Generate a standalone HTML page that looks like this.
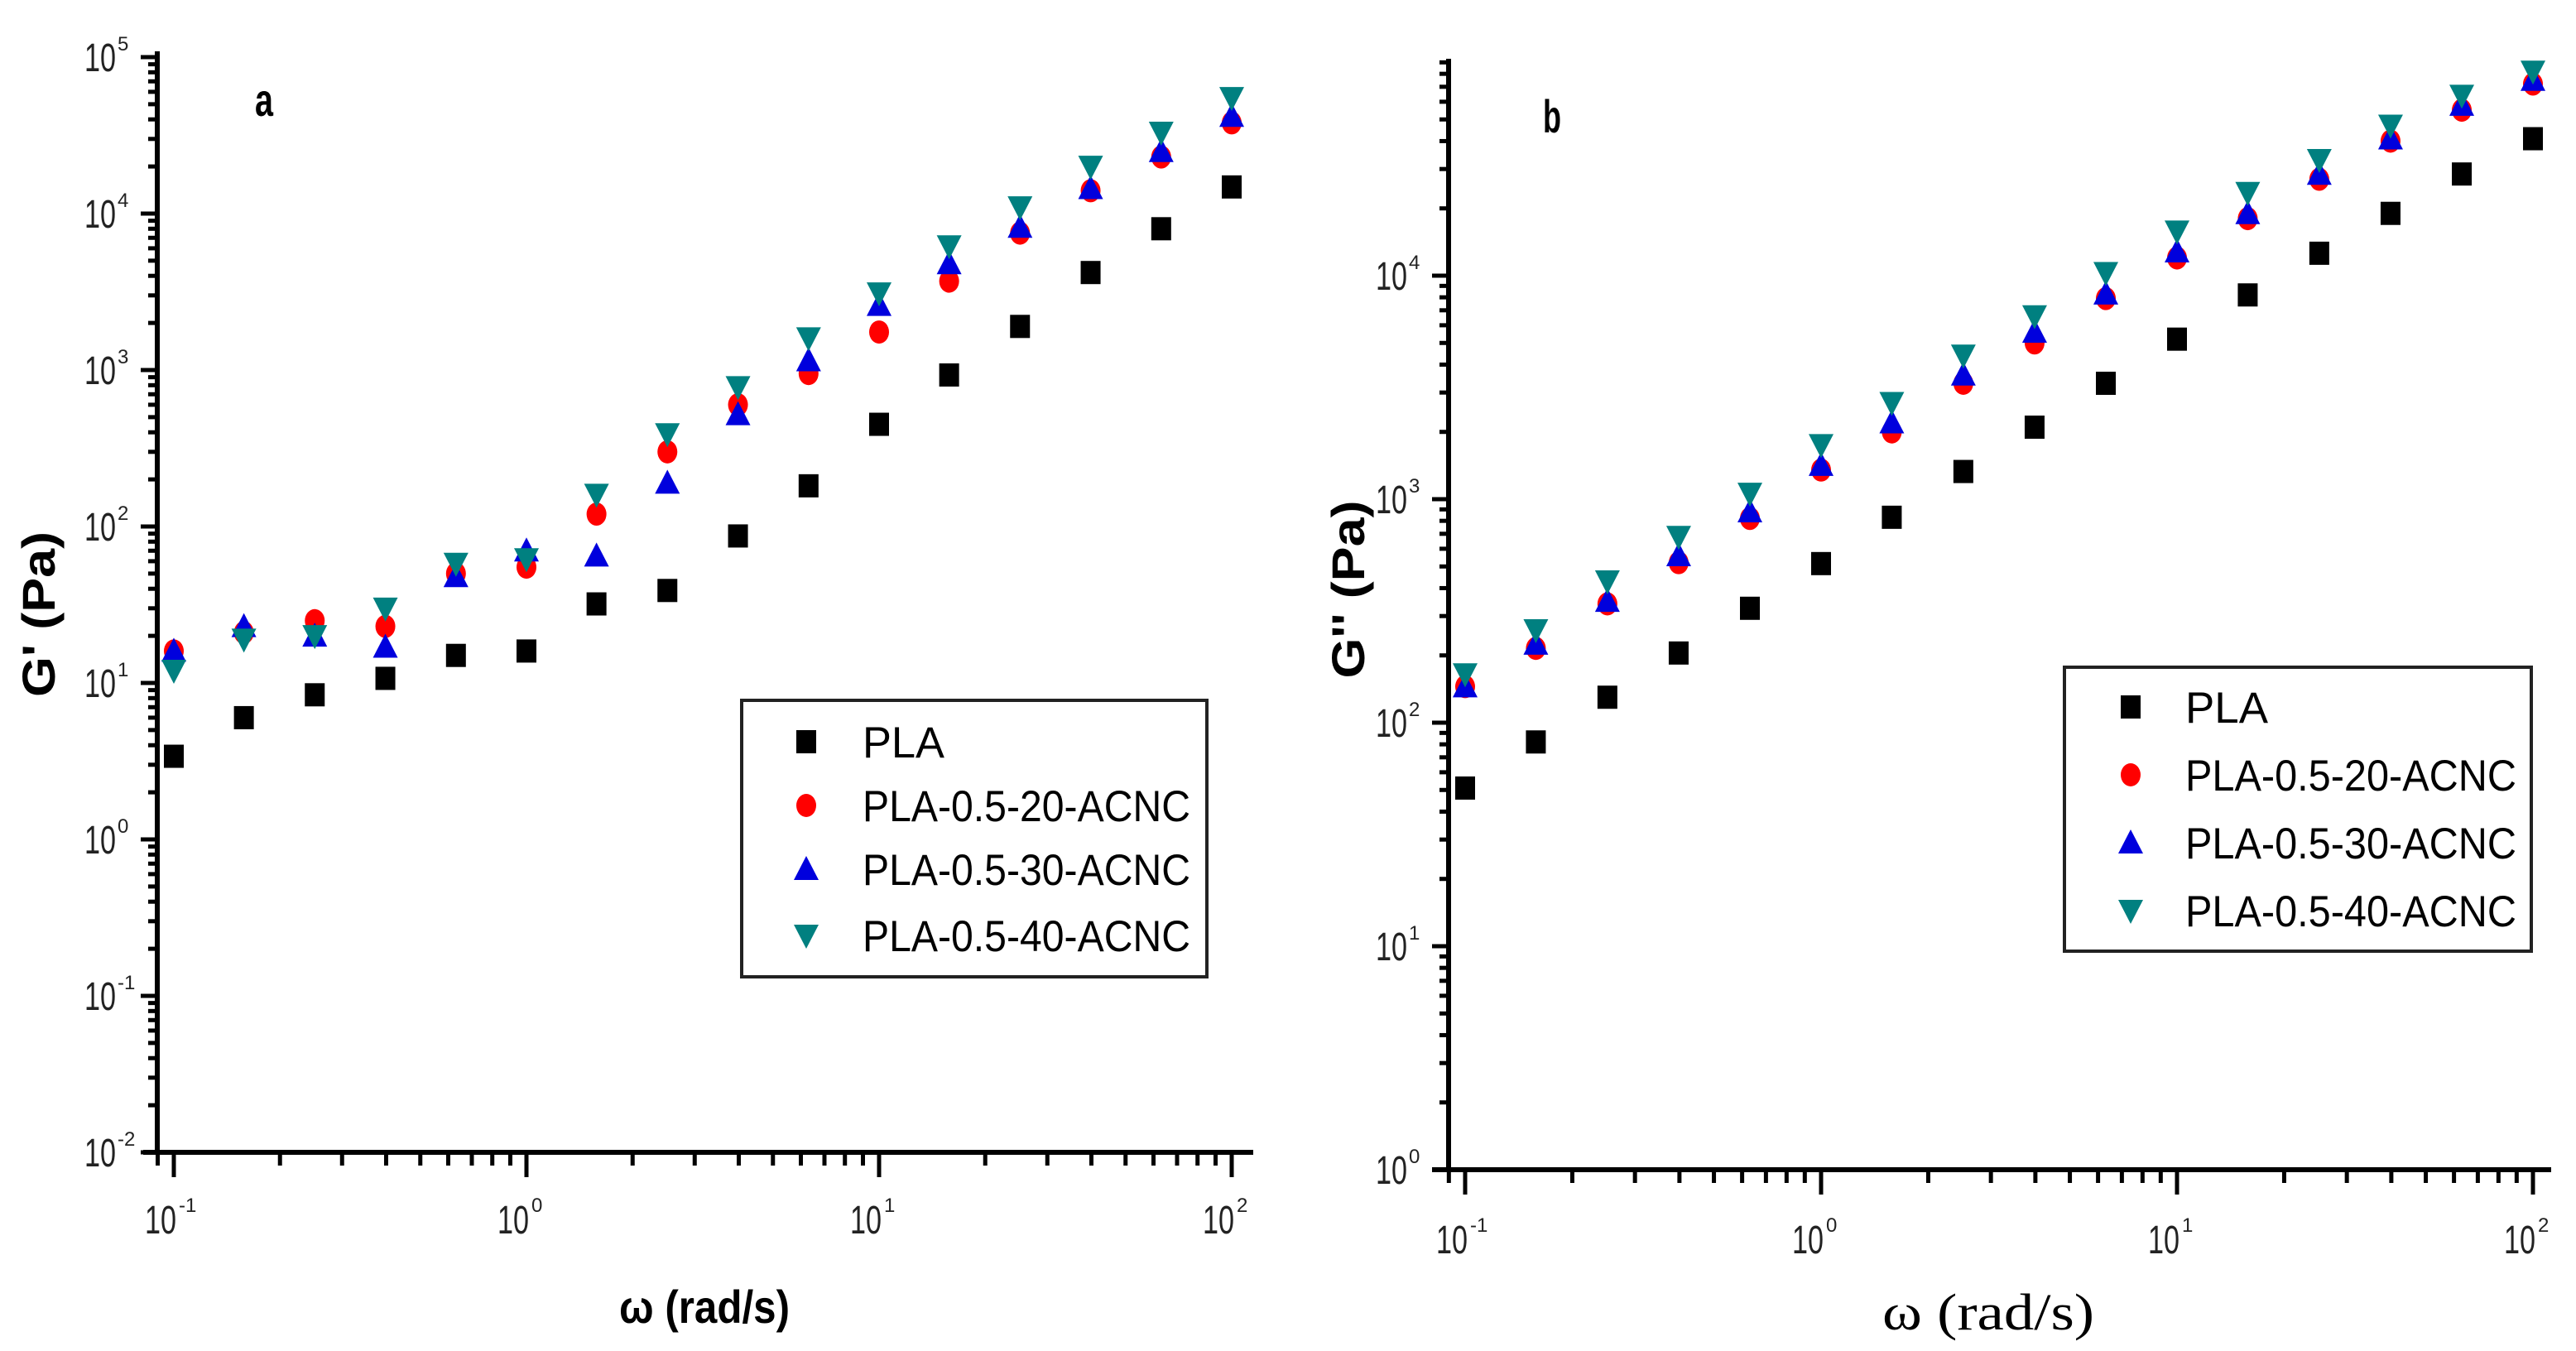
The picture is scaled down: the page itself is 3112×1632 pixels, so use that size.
<!DOCTYPE html>
<html><head><meta charset="utf-8"><style>
html,body{margin:0;padding:0;background:#fff;}
svg{display:block;}
</style></head><body>
<svg id="fig" width="3112" height="1632" viewBox="0 0 3112 1632" xmlns="http://www.w3.org/2000/svg" font-family="Liberation Sans, Arial, sans-serif"></svg>
<script>
// ---- data ----
const omega = [0.1,0.158,0.251,0.398,0.631,1,1.58,2.51,3.98,6.31,10,15.8,25.1,39.8,63.1,100];
const seriesNames = ["PLA","PLA-0.5-20-ACNC","PLA-0.5-30-ACNC","PLA-0.5-40-ACNC"];
const gA_PLA = [3.4,6.0,8.4,10.7,15,16,32,39,87,182,450,930,1900,4200,8000,14800];
const gA_20  = [16,21,25,23,50,55,120,300,600,950,1750,3700,7500,14000,23000,38000];
const gA_30  = [16,23,20,17,48,70,65,190,520,1150,2600,4800,8200,14500,25000,42000];
const gA_40  = [12,19,20,30,58,62,160,390,780,1600,3100,6200,11000,20000,33000,55000];
const gB_PLA = [51,82,130,205,325,515,830,1330,2100,3300,5200,8200,12600,19000,28500,41000];
const gB_20  = [145,215,340,520,820,1350,2000,3300,5000,7900,12000,18000,27000,40000,55000,72000];
const gB_30  = [145,225,350,560,880,1420,2200,3600,5600,8300,12800,19000,28500,41000,58000,75000];
const gB_40  = [165,260,430,680,1060,1750,2700,4400,6600,10300,15800,23500,33000,47000,64000,82000];
const xTickExp = [-1,0,1,2];
const yTickExpA = [-2,-1,0,1,2,3,4,5];
const yTickExpB = [0,1,2,3,4];

const NS="http://www.w3.org/2000/svg";
const svg=document.getElementById('fig');
function el(tag,attrs,parent){const e=document.createElementNS(NS,tag);for(const k in attrs)e.setAttribute(k,attrs[k]);(parent||svg).appendChild(e);return e;}

function panel(cfg){
  const g=el('g',{});
  
  
  const X=v=>cfg.x0+(Math.log10(v)+1)*cfg.xdec;
  const Y=v=>cfg.y0-(Math.log10(v)-cfg.ymin)*cfg.ydec;
  const ax=el('g',{},g);
  
  
  el('line',{x1:cfg.axL,y1:cfg.top,x2:cfg.axL,y2:cfg.y0,stroke:'#000','stroke-width':6},ax);
  el('line',{x1:cfg.xStart,y1:cfg.y0,x2:cfg.axR,y2:cfg.y0,stroke:'#000','stroke-width':6},ax);
  for(let d=-2;d<=2;d++){for(let m=1;m<10;m++){const v=m*Math.pow(10,d);const px=X(v);
    if(px<cfg.axL-1||px>cfg.axR)continue;
    el('line',{x1:px,y1:cfg.y0,x2:px,y2:cfg.y0+(m===1?30:16),stroke:'#000','stroke-width':5},ax);}}
  for(let d=cfg.ymin;d<=cfg.ymax;d++){for(let m=1;m<10;m++){const v=m*Math.pow(10,d);const py=Y(v);
    if(py<cfg.top||py>cfg.y0+1)continue;
    el('line',{x1:cfg.axL,y1:py,x2:cfg.axL-(m===1?20:11),y2:py,stroke:'#000','stroke-width':5},ax);}}
  xTickExp.forEach(e=>{const px=X(Math.pow(10,e));
    const t=el('text',{x:px-16,y:cfg.xlabY,'font-size':48,'text-anchor':'middle',fill:'#222',textLength:38,lengthAdjust:'spacingAndGlyphs'},ax);
    
    
    t.textContent='10';
    const s=el('text',{x:px+6,y:cfg.xlabY-26,'font-size':24,fill:'#222'},ax);
    s.textContent=String(e);});
  cfg.yExp.forEach(e=>{const py=Y(Math.pow(10,e));
    const t=el('text',{x:cfg.ylabX,y:py+17,'font-size':48,'text-anchor':'end',fill:'#222',textLength:38,lengthAdjust:'spacingAndGlyphs'},ax);
    
    
    t.textContent='10';
    const s=el('text',{x:cfg.ylabX+2,y:py-8,'font-size':24,fill:'#222'},ax);
    s.textContent=String(e);});
  const colors=['#000','#ff0000','#0000dd','#008080'];
  const shapes=['sq','ci','up','dn'];
  function marker(parent,shape,cx,cy,col){
    if(shape==='sq')return el('rect',{x:cx-12,y:cy-14,width:24,height:28,fill:col},parent);
    if(shape==='ci')return el('ellipse',{cx:cx,cy:cy,rx:12,ry:14,fill:col},parent);
    if(shape==='up')return el('polygon',{points:`${cx},${cy-16} ${cx+15},${cy+13} ${cx-15},${cy+13}`,fill:col},parent);
    return el('polygon',{points:`${cx-15},${cy-13} ${cx+15},${cy-13} ${cx},${cy+16}`,fill:col},parent);
  }
  const order=[1,2,3,0];
  order.forEach(i=>{
    const sg=el('g',{},g);
    
    
    cfg.series[i].forEach((v,j)=>{
      const m=marker(sg,shapes[i],X(omega[j]),Y(v),colors[i]);
      
      
    });
  });
  const lg=el('g',{},g);
  
  
  const L=cfg.legend;
  el('rect',{x:L.x,y:L.y,width:L.w,height:L.h,fill:'#fff',stroke:'#222','stroke-width':4},lg);
  seriesNames.forEach((n,i)=>{
    const ry=L.rows[i];
    const eg=el('g',{},lg);
    
    
    marker(eg,shapes[i],L.mx,ry,colors[i]);
    const t=el('text',{x:L.tx,y:ry+19,'font-size':53,fill:'#000',textLength:(i>0?L.tw:Math.round(L.tw*0.25)),lengthAdjust:'spacingAndGlyphs'},eg);
    t.textContent=n;
  });
  const yt=el('text',{transform:`translate(${cfg.ytX},${cfg.ytY}) rotate(-90)`,'font-size':56,'font-weight':'bold','text-anchor':'middle',textLength:cfg.ytLen,lengthAdjust:'spacingAndGlyphs'},g);
  
  
  yt.textContent=cfg.ytitle;
  const xt=el('text',{x:cfg.xtX,y:cfg.xtY,'font-size':cfg.xtSize,'font-weight':cfg.xtBold?'bold':'normal','font-family':cfg.xtFont,textLength:cfg.xtLen,lengthAdjust:'spacingAndGlyphs'},g);
  
  
  xt.textContent=cfg.xtitle;
  const pl=el('text',{x:cfg.plX,y:cfg.plY,'font-size':56,'font-weight':'bold',textLength:22,lengthAdjust:'spacingAndGlyphs'},g);
  
  
  pl.textContent=cfg.pl;
}

panel({name:'panel-a-storage-modulus',x0:210,xdec:426,y0:1392,ymin:-2,ymax:5,ydec:189,top:62,axL:190,axR:1514,xStart:173,
  xlabY:1490,ylabX:140,yExp:yTickExpA,series:[gA_PLA,gA_20,gA_30,gA_40],
  legend:{x:896,y:846,w:562,h:334,rows:[896,973,1050,1130],mx:974,tx:1042,tw:396},
  ytitle:"G' (Pa)",ytX:66,ytY:742,ytLen:200,xtitle:"ω (rad/s)",xtX:748,xtY:1598,xtLen:206,xtSize:56,xtBold:true,xtFont:'Liberation Sans, sans-serif',pl:'a',plX:308,plY:140});

panel({name:'panel-b-loss-modulus',x0:1770,xdec:430,y0:1413,ymin:0,ymax:4,ydec:270,top:71,axL:1750,axR:3082,xStart:1730,
  xlabY:1514,ylabX:1700,yExp:yTickExpB,series:[gB_PLA,gB_20,gB_30,gB_40],
  legend:{x:2494,y:806,w:564,h:343,rows:[854,936,1018,1100],mx:2574,tx:2640,tw:400},
  ytitle:"G'' (Pa)",ytX:1648,ytY:712,ytLen:215,xtitle:"ω  (rad/s)",xtX:2274,xtY:1606,xtLen:256,xtSize:62,xtBold:false,xtFont:'Liberation Serif, serif',pl:'b',plX:1864,plY:160});
</script>
</body></html>
